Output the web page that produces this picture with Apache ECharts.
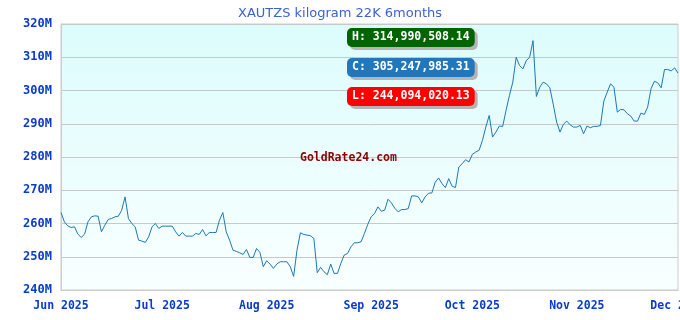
<!DOCTYPE html>
<html>
<head>
<meta charset="utf-8">
<script src="https://cdn.jsdelivr.net/npm/echarts@6/dist/echarts.min.js"></script>
<style>html,body{margin:0;padding:0;background:#fff}#c{width:680px;height:320px}</style>
</head>
<body>
<div id="c"></div>
<script>
// Values in millions, daily
const monthKeys = ['2025-06','2025-07','2025-08','2025-09','2025-10','2025-11','2025-12'];
const monthLabels = ['Jun 2025','Jul 2025','Aug 2025','Sep 2025','Oct 2025','Nov 2025','Dec 2025'];
const jun = [263.3,260.5,259.3,258.8,259,256.8,255.8,256.8,260.5,262,262.3,262.2,257.5,259.5,261.2,261.5,262,262.2,264,268,261.5,260,259,255,254.7,254.3,256,259,260,258.5];
const jul = [259.2,259.2,259.2,259.2,257.5,256.2,257.3,256.2,256.2,256.2,257,256.7,258.2,256.3,257.3,257.3,257.3,261,263.3,257.5,255,252,251.6,251.2,250.7,252.2,249.8,249.8,252.5,251.3,247];
const aug = [248.8,247.8,246.5,247.8,248.5,248.5,248.5,247,244.09402013,252,257.2,256.7,256.5,256.3,255.5,245.2,246.8,245.5,244.6,247.8,245,245,248,250.5,251,253,254.2,254.2,254.5,257,259.8];
const sep = [262,263,265,263.7,264,267.3,266.2,264.6,263.5,264.2,264.2,264.5,268.3,268.3,268,266.2,268,269.1,269.2,272.4,273.7,272,270.8,273.5,271.2,270.8,277,278,279.2,278.5];
const oct = [280.8,281.5,282,285,289,292.5,286,287.5,289.3,289.2,294,298.5,302.5,310,307.5,306.5,309,310,314.99050814,298.2,301,302.5,302,300.8,295.8,290.5,287.5,289.8,290.8,289.7,289];
const nov = [289,289.5,287,289.3,288.8,289.2,289.2,289.5,296.8,299.5,302,301,293.5,294.3,294.2,293,292.3,290.8,290.8,293.2,292.8,295,300.5,302.8,302.3,300.8,306.3,306.3,305.9,306.8];
const dec = [305.24798531];
const yTicks = [240,250,260,270,280,290,300,310,320];
const titleText = 'XAUTZS kilogram 22K 6months';
const statHigh = 'H: 314,990,508.14';
const statClose = 'C: 305,247,985.31';
const statLow = 'L: 244,094,020.13';
const watermark = 'GoldRate24.com';

const months = [jun, jul, aug, sep, oct, nov, dec];
const categories = [];
const values = [];
months.forEach((arr, mi) => {
  arr.forEach((v, di) => {
    categories.push(monthKeys[mi] + '-' + String(di + 1).padStart(2, '0'));
    values.push(v);
  });
});

const chart = echarts.init(document.getElementById('c'), null, {renderer: 'canvas'});
const mono = '"DejaVu Sans Mono", "Liberation Mono", monospace';
function statBox(text, bg, top) {
  return {
    text: text, left: 347, top: top,
    padding: [3, 5, 3, 5],
    backgroundColor: bg, borderRadius: 5,
    shadowColor: '#b4b4b4', shadowOffsetX: 3, shadowOffsetY: 3, shadowBlur: 0,
    textStyle: {color: '#fff', fontFamily: mono, fontWeight: 'bold', fontSize: 11.5, lineHeight: 13}
  };
}
chart.setOption({
  animation: false,
  title: [
    {text: titleText, left: 'center', top: 2,
     textStyle: {color: '#3a62d0', fontFamily: '"DejaVu Sans", sans-serif', fontWeight: 'normal', fontSize: 13}},
    statBox(statHigh, '#006400', 28),
    statBox(statClose, '#2277bb', 58),
    statBox(statLow, '#ff0000', 87)
  ],
  grid: {
    left: 61, right: 2, top: 24, bottom: 30, containLabel: false,
    outerBoundsMode: 'none',
    show: true, borderColor: '#cccccc', borderWidth: 1,
    backgroundColor: new echarts.graphic.LinearGradient(0, 0, 0, 1, [
      {offset: 0, color: '#dcfcfc'}, {offset: 1, color: '#f9ffff'}
    ])
  },
  xAxis: {
    type: 'category', data: categories, boundaryGap: false,
    axisLine: {show: true, lineStyle: {color: '#cccccc'}},
    axisTick: {show: false},
    splitLine: {show: false},
    axisLabel: {
      interval: (idx, val) => val.endsWith('-01'),
      formatter: (val) => monthLabels[monthKeys.indexOf(val.slice(0, 7))],
      color: '#0a3ccc', fontFamily: mono, fontWeight: 'bold', fontSize: 11.5, margin: 10
    }
  },
  yAxis: {
    type: 'value', min: yTicks[0], max: yTicks[yTicks.length - 1], interval: 10,
    axisLine: {show: true, lineStyle: {color: '#cccccc'}},
    axisTick: {show: false},
    splitLine: {show: true, lineStyle: {color: '#c8c8c8', width: 1}},
    axisLabel: {
      formatter: (v) => v + 'M',
      color: '#0a3ccc', fontFamily: mono, fontWeight: 'bold', fontSize: 12, margin: 9
    }
  },
  graphic: [{
    type: 'text', left: 300, top: 152, z: 5,
    style: {text: watermark, fill: '#8b0000', font: 'bold 11.5px ' + mono}
  }],
  series: [{
    type: 'line', data: values, showSymbol: false, symbol: 'none',
    lineStyle: {color: '#1f77b4', width: 1}, z: 3
  }]
});
</script>
</body>
</html>
